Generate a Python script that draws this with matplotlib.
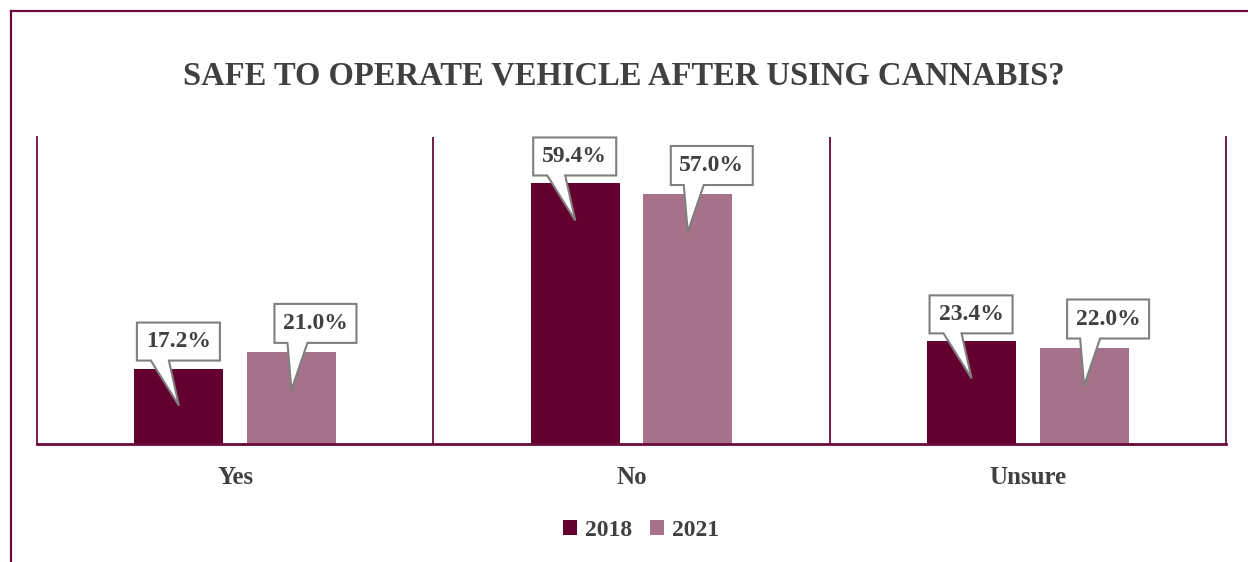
import matplotlib
matplotlib.use("Agg")
import matplotlib.pyplot as plt
import matplotlib.transforms as mtransforms
from matplotlib.patches import Polygon, Patch
from matplotlib.lines import Line2D

categories = ["Yes", "No", "Unsure"]
series_names = ["2018", "2021"]
values_2018 = [17.2, 59.4, 23.4]
values_2021 = [21.0, 57.0, 22.0]

MAROON = "#640030"
MAUVE = "#A6728A"
TEXT = "#404040"
FRAME = "#6B0A3A"
SERIF = ["Liberation Serif", "DejaVu Serif"]

W, H = 1248, 562
fig = plt.figure(figsize=(W / 100, H / 100), dpi=100)
fig.patch.set_facecolor("white")

# outer frame (top and left edges)
fig.add_artist(Line2D([11 / W, 11 / W], [0, 1 - 11 / H], color=FRAME, lw=1.6,
                      transform=fig.transFigure))
fig.add_artist(Line2D([11 / W, 1], [1 - 11 / H, 1 - 11 / H], color=FRAME, lw=1.6,
                      transform=fig.transFigure))

ax = fig.add_axes([37 / W, (H - 444) / H, (1226 - 37) / W, (444 - 137) / H])
ax.set_xlim(-0.5, 2.5)
ax.set_ylim(0, 70)

width = 0.225
offset = 0.142
xs = list(range(len(categories)))
bars_a = ax.bar([x - offset for x in xs], values_2018, width, color=MAROON, zorder=2)
bars_b = ax.bar([x + offset for x in xs], values_2021, width, color=MAUVE, zorder=2)

ax.spines["top"].set_visible(False)
for s in ["left", "right"]:
    ax.spines[s].set_color(FRAME)
    ax.spines[s].set_linewidth(1.3)
ax.spines["bottom"].set_color(FRAME)
ax.spines["bottom"].set_linewidth(2)
for xb in [0.5, 1.5]:
    ax.axvline(xb, color=FRAME, lw=1.3, zorder=1)

ax.set_yticks([])
ax.set_xticks(xs)
ax.set_xticklabels(categories, fontfamily=SERIF, fontweight="bold", fontsize=18,
                   color=TEXT)
ax.tick_params(axis="x", length=0, pad=16)

# callout shapes in pixel offsets relative to the bar top
shapes = {
    0: dict(box=(-42, 41, 8, 46), base=(-28, -10), tip=-37),
    1: dict(box=(-17, 65, 9, 48), base=(-4, 16), tip=-38),
}


def callout(xc, v, kind):
    s = shapes[kind]
    x0, x1, y0, y1 = s["box"]
    b0, b1 = s["base"]
    verts = [(x0, y0), (b0, y0), (0, s["tip"]), (b1, y0), (x1, y0), (x1, y1),
             (x0, y1)]
    trans = mtransforms.Affine2D() + mtransforms.ScaledTranslation(xc, v, ax.transData)
    poly = Polygon(verts, closed=True, facecolor="white", edgecolor="#7F7F7F",
                   lw=1.5, transform=trans, zorder=4, clip_on=False)
    ax.add_patch(poly)
    ax.text((x0 + x1) / 2, (y0 + y1) / 2, f"{v:.1f}%", transform=trans,
            ha="center", va="center", fontfamily=SERIF, fontweight="bold",
            fontsize=17, color=TEXT, zorder=5)


for i, x in enumerate(xs):
    callout(x - offset, values_2018[i], 0)
    callout(x + offset, values_2021[i], 1)

fig.text(0.5, 1 - 76 / H, "SAFE TO OPERATE VEHICLE AFTER USING CANNABIS?",
         ha="center", va="center", fontfamily=SERIF, fontweight="bold",
         fontsize=23.5, color=TEXT)

handles = [Patch(facecolor=MAROON, label=series_names[0]),
           Patch(facecolor=MAUVE, label=series_names[1])]
fig.legend(handles=handles, loc="center", bbox_to_anchor=(641 / W, 1 - 530 / H),
           ncol=2, frameon=False, handlelength=0.6, handleheight=0.6,
           handletextpad=0.35, columnspacing=0.75,
           prop={"family": SERIF, "weight": "bold", "size": 17},
           labelcolor=TEXT)

fig.savefig("out.png", dpi=100, facecolor="white")
